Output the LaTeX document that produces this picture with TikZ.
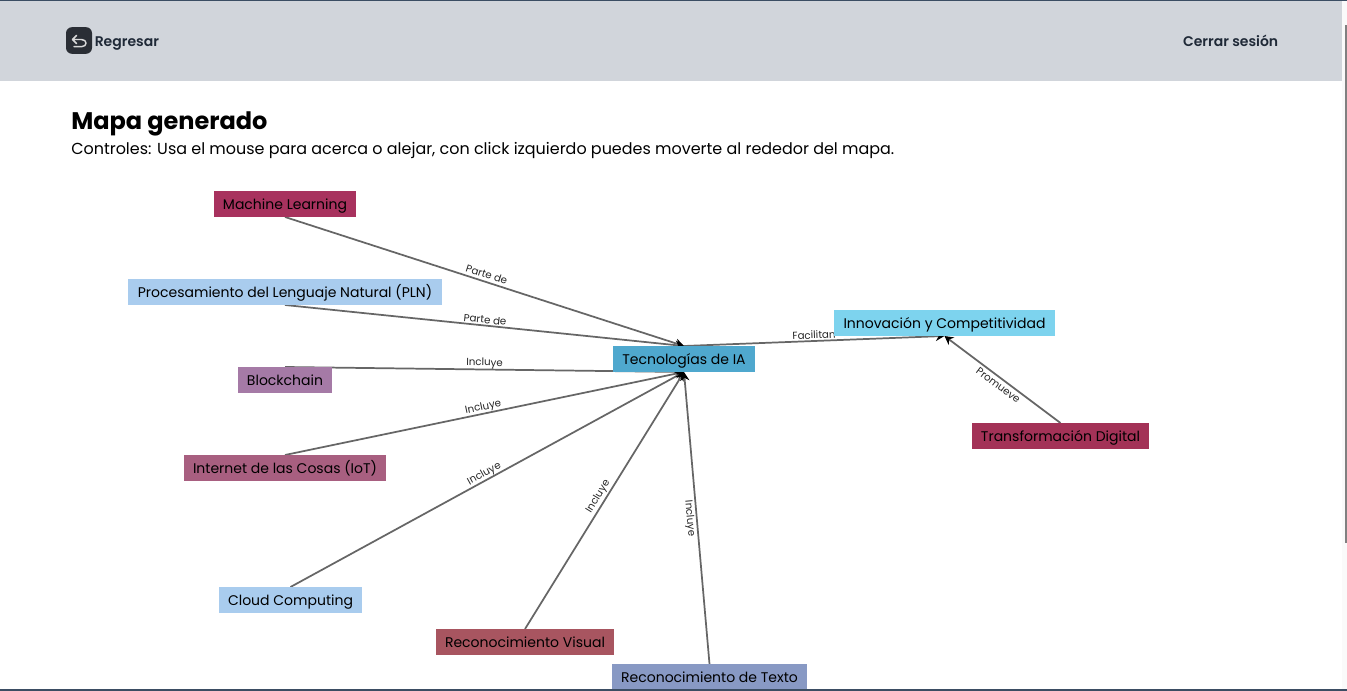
\documentclass[tikz,border=0pt]{standalone}
\usepackage{fontspec}
\setmainfont{Poppins}
\newfontfamily\semibold{Poppins SemiBold}
\usetikzlibrary{arrows.meta}
\pgfdeclarelayer{page}
\pgfdeclarelayer{links}
\pgfsetlayers{page,links,main}
\definecolor{hdr}{HTML}{D1D5DB}
\definecolor{frame}{HTML}{3B4D63}
\definecolor{edgec}{HTML}{666666}
\definecolor{inkc}{HTML}{1F2937}
\definecolor{iconc}{HTML}{2A2E35}
\definecolor{cML}{HTML}{A8325E}
\definecolor{cPLN}{HTML}{A9CCEE}
\definecolor{cBC}{HTML}{A57AA6}
\definecolor{cIOT}{HTML}{A85F80}
\definecolor{cRV}{HTML}{A85560}
\definecolor{cRT}{HTML}{8899C4}
\definecolor{cTEC}{HTML}{4FA8CE}
\definecolor{cINN}{HTML}{7DD3EE}
\definecolor{cTD}{HTML}{A33257}
\tikzset{
  x=0.75pt,y=-0.75pt,
  mapnode/.style={anchor=center,inner sep=0pt,outer sep=0pt,text height=11.5pt,text depth=3pt,font=\fontsize{10.5}{12}\selectfont,text=black},
  maplink/.style={draw=edgec,line width=1.3pt,-{Stealth[length=6.5pt,width=7pt,color=black]}},
  linklabel/.style={font=\fontsize{7.7}{9}\selectfont,text=black!85,inner sep=1pt,sloped,midway},
  toplabel/.style={font=\fontsize{10.5}{12}\selectfont\semibold,text=inkc,inner sep=0pt},
}
\newcommand{\mapbox}[7]{% name, x0,y0,x1,y1, colour, text
  \node[mapnode,fill=#6,minimum width={(#4-#2)*0.75pt},minimum height={(#5-#3)*0.75pt}] (#1) at ({(#2+#4)/2},{(#3+#5)/2}) {#7};
}
\begin{document}
\begin{tikzpicture}
\useasboundingbox (0,0) rectangle (1347,691);
\begin{pgfonlayer}{page}
\fill[white] (0,0) rectangle (1347,691);
\fill[black!2] (1342,0) rectangle (1347,691);
\fill[hdr] (0,0) rectangle (1342,81);
\fill[black!50] (1345,25) rectangle (1347,543);
\end{pgfonlayer}
% back button
\node[fill=iconc,rounded corners=4.5pt,minimum width=19.5pt,minimum height=20pt,inner sep=0pt] (backicon) at (79,40.5) {};
\draw[white!85!black,line width=1.1pt,line cap=round,line join=round]
  (74,46.7) -- (81.5,46.7) .. controls (87.5,46.7) and (87.5,39.5) .. (81.5,39.5) -- (72.5,39.5)
  (76.5,35.5) -- (72.5,39.5) -- (76.5,43.5);
\node[toplabel,anchor=base west] (back) at (94.5,47) {Regresar};
\node[toplabel,anchor=base east] (logout) at (1278.5,47) {Cerrar sesión};
\node[anchor=base west,inner sep=0pt,font=\fontsize{18}{20}\selectfont\bfseries,text=black] (title) at (71,130) {Mapa generado};
\node[anchor=base west,inner sep=0pt,font=\fontsize{11.97}{14}\selectfont,text=black] (sub) at (71,155) {Controles: Usa el mouse para acerca o alejar, con click izquierdo puedes moverte al rededor del mapa.};
% nodes
\mapbox{ml}{214}{191}{356}{217}{cML}{Machine Learning}
\mapbox{pln}{128}{279}{442}{305}{cPLN}{Procesamiento del Lenguaje Natural (PLN)}
\mapbox{bc}{238}{367}{332}{393}{cBC}{Blockchain}
\mapbox{iot}{184}{455}{386}{481}{cIOT}{Internet de las Cosas (IoT)}
\mapbox{cc}{219}{587}{362}{613}{cPLN}{Cloud Computing}
\mapbox{rv}{436}{629}{614}{655}{cRV}{Reconocimiento Visual}
\mapbox{rt}{612}{664}{807}{690}{cRT}{Reconocimiento de Texto}
\mapbox{tec}{613}{346}{755}{372}{cTEC}{Tecnologías de IA}
\mapbox{inn}{834}{310}{1055}{336}{cINN}{Innovación y Competitividad}
\mapbox{td}{972}{423}{1149}{449}{cTD}{Transformación Digital}
\fill[frame] (0,0) rectangle (1347,1.5);
\fill[frame] (0,689) rectangle (1347,691);
% connectors
\begin{pgfonlayer}{links}
\draw[maplink] (ml.south) -- node[linklabel,above,inner sep=2pt]{Parte de} (tec.north);
\draw[maplink] (pln.south) -- node[linklabel,above]{Parte de} (tec.north);
\draw[maplink] (bc.north) -- node[linklabel,above,inner sep=0pt]{Incluye} (tec.south);
\draw[maplink] (iot.north) -- node[linklabel,above,inner sep=0pt]{Incluye} (tec.south);
\draw[maplink] (cc.north) -- node[linklabel,above,inner sep=0pt]{Incluye} (tec.south);
\draw[maplink] (rv.north) -- node[linklabel,above]{Incluye} (tec.south);
\draw[maplink] (rt.north) -- node[linklabel,below]{Incluye} (tec.south);
\draw[maplink] (tec.north) -- node[linklabel,above]{Facilitan} (inn.south);
\draw[maplink] (td.north) -- node[linklabel,below,inner sep=2pt]{Promueve} (inn.south);
\end{pgfonlayer}
\end{tikzpicture}
\end{document}
